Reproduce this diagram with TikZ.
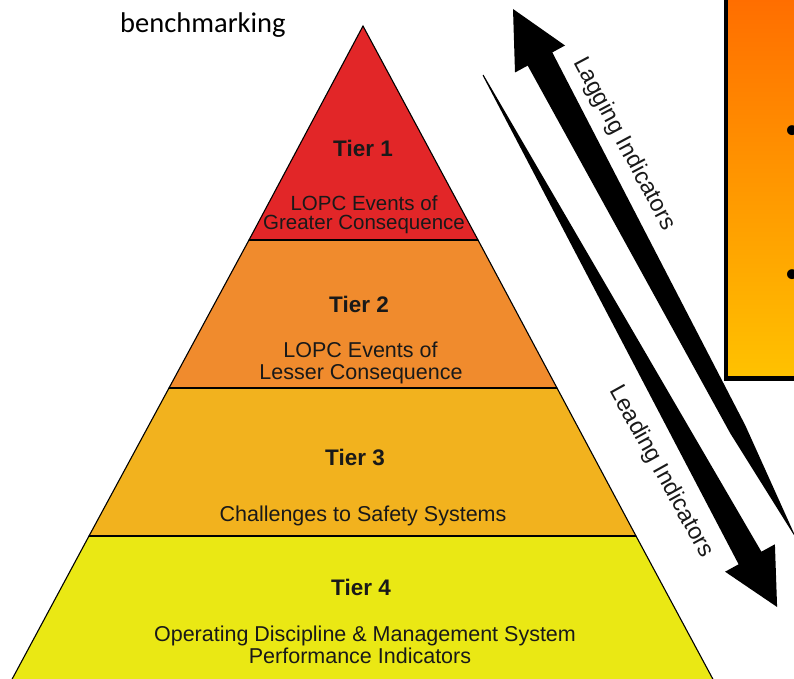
\documentclass[tikz,border=0pt]{standalone}
\usepackage{fontspec}
\setmainfont{Liberation Sans}
\newfontfamily\calibrifont{Carlito}
\definecolor{tone}{RGB}{226,38,40}
\definecolor{ttwo}{RGB}{240,139,45}
\definecolor{tthree}{RGB}{242,178,30}
\definecolor{tfour}{RGB}{234,232,20}
\definecolor{txt}{RGB}{25,25,25}
\definecolor{boxtop}{RGB}{255,108,0}
\definecolor{boxbot}{RGB}{255,194,0}
\begin{document}
\begin{tikzpicture}[x=1pt,y=-1pt,
  tierpoly/.style={draw=black, line width=1.1pt, line join=miter},
  sepline/.style={draw=black, line width=2.4pt},
  tiertitle/.style={font=\fontsize{22.5}{24}\selectfont\bfseries, text=txt, anchor=base, inner sep=0},
  tiertext/.style={font=\fontsize{21.5}{22}\selectfont, text=txt, anchor=base, inner sep=0},
  arrowlabel/.style={font=\fontsize{23.5}{25}\selectfont, text=txt, inner sep=0},
  bulletmark/.style={font=\calibrifont\fontsize{28}{30}\selectfont, inner sep=0}
]
\useasboundingbox (0,0) rectangle (794,679);
\clip (0,0) rectangle (794,679);

% pyramid corners
\coordinate (apex) at (363,26);
\coordinate (l1) at (249,240); \coordinate (r1) at (478,240);
\coordinate (l2) at (169,388); \coordinate (r2) at (557,388);
\coordinate (l3) at (89,536);  \coordinate (r3) at (636,536);
\coordinate (l4) at (-12,724); \coordinate (r4) at (737,724);

\filldraw[tierpoly, fill=tone]   (apex) -- (l1) -- (r1) -- cycle;
\filldraw[tierpoly, fill=ttwo]   (l1) -- (l2) -- (r2) -- (r1) -- cycle;
\filldraw[tierpoly, fill=tthree] (l2) -- (l3) -- (r3) -- (r2) -- cycle;
\filldraw[tierpoly, fill=tfour]  (l3) -- (l4) -- (r4) -- (r3) -- cycle;
\draw[sepline] (l1) -- (r1);
\draw[sepline] (l2) -- (r2);
\draw[sepline] (l3) -- (r3);

% tier texts
\node[tiertitle] (t1) at (363,156.7) {Tier 1};
\node[tiertext, font=\fontsize{20.5}{22}\selectfont] (t1a) at (364,210) {LOPC Events of};
\node[tiertext, font=\fontsize{20.5}{22}\selectfont] (t1b) at (364,229.3) {Greater Consequence};
\node[tiertitle] (t2) at (359,312.3) {Tier 2};
\node[tiertext] (t2a) at (360.5,357.3) {LOPC Events of};
\node[tiertext] (t2b) at (361,379.3) {Lesser Consequence};
\node[tiertitle] (t3) at (355,465) {Tier 3};
\node[tiertext] (t3a) at (363,521.7) {Challenges to Safety Systems};
\node[tiertitle] (t4) at (361,595) {Tier 4};
\node[tiertext] (t4a) at (365,641.7) {Operating Discipline \& Management System};
\node[tiertext] (t4b) at (360,663.3) {Performance Indicators};

% lagging arrow (points up-left, tapers toward bottom-right)
\fill[black] (513,9) -- (515,72.5) -- (527.7,65.6) -- (730.3,433.4) -- (797,540)
  -- (745.3,425.4) -- (552.3,52.4) -- (565,45.5) -- cycle;
% leading arrow (points down-right, grows from a thin start)
\fill[black] (482.6,75.4) -- (738.6,564.3) -- (725.1,571.7) -- (777.1,607)
  -- (774.9,544.3) -- (761.4,551.7) -- (483.4,74.6) -- cycle;

\node[arrowlabel, rotate=-62] (lag) at (624,144) {Lagging Indicators};
\node[arrowlabel, rotate=-61] (lead) at (661,472) {Leading Indicators};

% side box
\draw[line width=4.2pt, top color=boxtop, bottom color=boxbot] (726,-10) rectangle (840,378.5);
\node[bulletmark] (bul1) at (792,132) {•};
\node[bulletmark] (bul2) at (792,276) {•};

% top-left text
\node[font=\calibrifont\fontsize{28.5}{30}\selectfont, anchor=base west, inner sep=0] (bench) at (120,33) {benchmarking};
\end{tikzpicture}
\end{document}
